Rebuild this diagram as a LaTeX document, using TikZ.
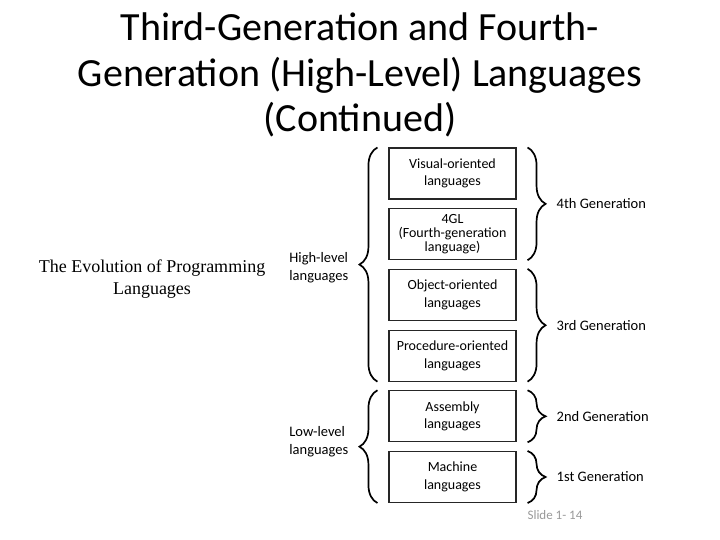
\documentclass[tikz,border=0pt]{standalone}
\usepackage{fontspec}
\setmainfont{Carlito}
\newfontfamily\serifnote{Liberation Serif}
\usetikzlibrary{positioning, decorations.pathreplacing}

\begin{document}
\begin{tikzpicture}[x=1pt, y=-1pt,
  langbox/.style={draw=black!85, line width=1.1pt, minimum width=127pt, minimum height=51pt, align=center, inner sep=2pt, font=\fontsize{14}{17.5}\selectfont},
  gbrace/.style={decorate, decoration={brace, amplitude=18pt}, line width=1.7pt},
  glabel/.style={font=\fontsize{14.5}{17.5}\selectfont, align=left}
]
  \useasboundingbox (0,0) rectangle (720,540);

  % title and caption
  \node[align=center, font=\fontsize{40}{45.5}\selectfont] (title) at (360,75) {Third-Generation and Fourth-\\Generation (High-Level) Languages\\(Continued)};
  \node[align=center, font=\serifnote\fontsize{18}{22}\selectfont] (caption) at (152,279) {The Evolution of Programming\\Languages};

  % the six language levels
  \node[langbox] (vis) at (452.5,173.5) {Visual-oriented\\languages};
  \node[langbox, below=8.6pt of vis, font=\fontsize{14}{13.8}\selectfont] (fgl) {4GL\\(Fourth-generation\\language)};
  \node[langbox, below=8.6pt of fgl] (obj) {Object-oriented\\languages};
  \node[langbox, below=8.6pt of obj] (proc) {Procedure-oriented\\languages};
  \node[langbox, below=8.6pt of proc] (asm) {Assembly\\languages};
  \node[langbox, below=8.6pt of asm] (mach) {Machine\\languages};

  % left braces
  \draw[gbrace] ([xshift=-11pt]proc.south west) -- ([xshift=-11pt]vis.north west)
    node[midway, glabel, left=25pt, yshift=-3pt] (high) {High-level\\languages};
  \draw[gbrace] ([xshift=-11pt]mach.south west) -- ([xshift=-11pt]asm.north west)
    node[midway, glabel, left=25pt, yshift=5pt] (low) {Low-level\\languages};

  % right braces
  \draw[gbrace] ([xshift=11pt]vis.north east) -- ([xshift=11pt]fgl.south east)
    node[midway, glabel, right=25pt] (gen4) {4th Generation};
  \draw[gbrace] ([xshift=11pt]obj.north east) -- ([xshift=11pt]proc.south east)
    node[midway, glabel, right=25pt] (gen3) {3rd Generation};
  \draw[gbrace] ([xshift=11pt]asm.north east) -- ([xshift=11pt]asm.south east)
    node[midway, glabel, right=25pt] (gen2) {2nd Generation};
  \draw[gbrace] ([xshift=11pt]mach.north east) -- ([xshift=11pt]mach.south east)
    node[midway, glabel, right=25pt] (gen1) {1st Generation};

  \node[font=\fontsize{13}{15}\selectfont, text=black!40] (slide) at (555,515) {Slide 1- 14};
\end{tikzpicture}
\end{document}
